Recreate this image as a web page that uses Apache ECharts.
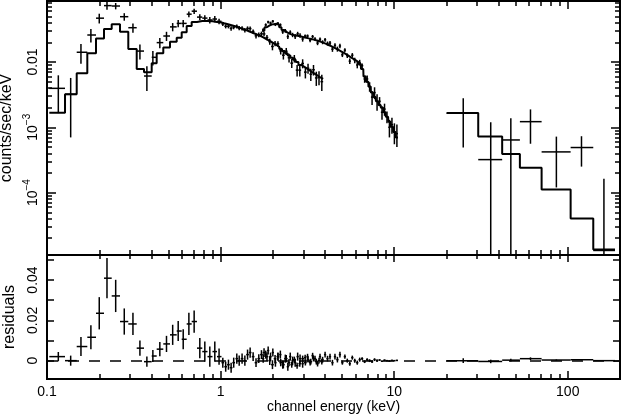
<!DOCTYPE html>
<html><head><meta charset="utf-8">
<script src="https://cdn.jsdelivr.net/npm/echarts@6/dist/echarts.min.js"></script>
<style>html,body{margin:0;padding:0;background:#fff}#c{width:623px;height:417px}</style>
</head><body><div id="c"></div>
<script>
// ---------- tick positions / labels ----------
const xTickEnergies = [0.1, 1, 10, 100];
const xTickLabels = ['0.1', '1', '10', '100'];
const xMinorEnergies = [0.2,0.3,0.4,0.5,0.6,0.7,0.8,0.9,2,3,4,5,6,7,8,9,20,30,40,50,60,70,80,90];
const yTickRates = [0.01, 0.001, 0.0001];
const yTickLabels = ['{b|0.01}', '{b|10}{s|\u22123}', '{b|10}{s|\u22124}'];
const yMinorRates = [2e-5,3e-5,4e-5,5e-5,6e-5,7e-5,8e-5,9e-5,
  2e-4,3e-4,4e-4,5e-4,6e-4,7e-4,8e-4,9e-4,
  2e-3,3e-3,4e-3,5e-3,6e-3,7e-3,8e-3,9e-3,
  2e-2,3e-2,4e-2,5e-2,6e-2,7e-2,8e-2];
const resTickValues = [0, 0.01, 0.02, 0.03, 0.04, 0.05];
const resLabelValues = [0, 0.02, 0.04];
const resLabels = ['0', '0.02', '0.04'];

// ---------- LECS, low-energy wide bins ----------
const lecsLowEdges = [0.1031,0.1270,0.1483,0.1707,0.1916,0.2130,0.2359,0.2634,0.2940,0.3287,0.3622,0.4010,0.4284,0.4677,0.5112,0.5587,0.5970,0.6378,0.6815,0.7311,0.7843,0.8406,0.8981,0.9535,1.0120];
const lecsLowE = [0.1162,0.1369,0.1569,0.179,0.2,0.2216,0.2487,0.2787,0.3127,0.343,0.3762,0.4073,0.4467,0.488,0.5297,0.5699,0.6091,0.6567,0.7042,0.7592,0.8113,0.8668,0.9262,0.98];
const lecsLowRate = [0.00395,0.0032,0.0141,0.0259,0.0469,0.073,0.072,0.0494,0.0335,0.0147,0.0061,0.0118,0.0198,0.025,0.0345,0.039,0.039,0.054,0.060,0.0487,0.047,0.044,0.0455,0.042];
const lecsLowErr = [0.0023,0.0025,0.0047,0.006,0.008,0.010,0.008,0.0065,0.0055,0.0038,0.0025,0.003,0.0035,0.004,0.005,0.005,0.005,0.0055,0.0055,0.005,0.005,0.005,0.005,0.004];
const lecsLowModel = [0.00167,0.0032,0.0067,0.0136,0.023,0.032,0.0378,0.029,0.0158,0.0078,0.00695,0.00955,0.0136,0.0166,0.0205,0.0236,0.0285,0.0356,0.041,0.0425,0.0425,0.042,0.041,0.0403];
const lecsLowResid = [0.002,0.0,0.007,0.0116,0.0235,0.0409,0.0321,0.0194,0.0182,0.0062,-0.0005,0.0023,0.0057,0.0083,0.0128,0.0147,0.0106,0.0182,0.0194,0.0062,0.0045,0.002,0.0045,0.002];

// ---------- LECS, dense bins ----------
const lecsHalfWidth = 0.018;
const lecsE = [1.03,1.07,1.11,1.15,1.19,1.24,1.28,1.33,1.38,1.43,1.48,1.54,1.60,1.66,1.72,1.78,1.85,1.92,1.99,2.06,2.14,2.22,2.30,2.39,2.48,2.57,2.66,2.76,2.86,2.97,3.08,3.19,3.31,3.43,3.56,3.69,3.83];
const lecsModel = [0.0392,0.0382,0.0372,0.0362,0.0352,0.0340,0.0330,0.0318,0.0307,0.0296,0.0285,0.0273,0.0262,0.0251,0.0240,0.0229,0.0217,0.0205,0.0193,0.0182,0.0170,0.0158,0.0147,0.0136,0.0126,0.0116,0.0108,0.0100,0.0090,0.0085,0.0080,0.0075,0.0070,0.0066,0.0062,0.0058,0.0055];
const lecsRate = [0.0382,0.0352,0.0352,0.0327,0.0342,0.0350,0.0330,0.0328,0.0307,0.0326,0.0325,0.0293,0.0252,0.0261,0.0270,0.0269,0.0237,0.0205,0.0173,0.0192,0.0190,0.0148,0.0127,0.0146,0.0116,0.0096,0.0113,0.0075,0.0075,0.0095,0.0070,0.0080,0.0065,0.0076,0.0057,0.0058,0.0050];
const lecsErr = [0.0025,0.0025,0.0025,0.0025,0.0025,0.0025,0.0025,0.0025,0.0025,0.0025,0.0025,0.0022,0.0022,0.0022,0.0022,0.0022,0.0022,0.0022,0.0022,0.0018,0.0018,0.0018,0.0018,0.0018,0.0018,0.0015,0.0015,0.0015,0.0015,0.0015,0.0014,0.0014,0.0014,0.0014,0.0014,0.0014,0.0014];
const lecsResid = [-0.001,-0.003,-0.002,-0.0035,-0.001,0.001,0.0,0.001,0.0,0.003,0.004,0.002,-0.001,0.001,0.003,0.004,0.002,0.0,-0.002,0.001,0.002,-0.001,-0.002,0.001,-0.001,-0.002,0.0005,-0.0025,-0.0015,0.001,-0.001,0.0005,-0.0005,0.001,-0.0005,0.0,-0.0005];

// ---------- MECS ----------
const mecsHalfWidth = 0.015;
const mecsE = [1.76,1.82,1.88,1.94,2.00,2.07,2.14,2.21,2.28,2.36,2.44,2.52,2.60,2.69,2.78,2.87,2.97,3.07,3.17,3.28,3.39,3.50,3.62,3.74,3.87,4.00,4.13,4.27,4.41,4.56,4.71,4.87,5.03,5.20,5.37,5.55,5.74,5.93,6.13,6.33,6.54,6.76,6.99,7.22,7.46,7.71,7.97,8.24,8.51,8.80,9.09,9.39,9.71,10.03,10.37];
const mecsModel = [0.030,0.034,0.036,0.0375,0.038,0.0385,0.037,0.034,0.031,0.029,0.0275,0.0265,0.026,0.0255,0.025,0.0245,0.024,0.0235,0.023,0.0225,0.022,0.0215,0.021,0.0203,0.0196,0.0189,0.0182,0.0175,0.0167,0.0160,0.0153,0.0146,0.0139,0.0132,0.0125,0.0118,0.0112,0.0106,0.0100,0.0093,0.0078,0.0060,0.0050,0.0042,0.0034,0.0029,0.0025,0.0022,0.0020,0.0017,0.00145,0.00122,0.00102,0.00085,0.00070];
const mecsRate = [0.031,0.037,0.041,0.0395,0.042,0.0375,0.039,0.037,0.029,0.030,0.0245,0.0285,0.026,0.0245,0.027,0.0255,0.0225,0.025,0.025,0.0215,0.0245,0.0225,0.0195,0.0223,0.0201,0.0219,0.0192,0.0195,0.0157,0.0180,0.0158,0.0176,0.0129,0.0152,0.0125,0.0103,0.0127,0.0106,0.0090,0.0098,0.0088,0.0055,0.0055,0.0042,0.0029,0.0034,0.0025,0.0025,0.0017,0.0019,0.00145,0.0010,0.0011,0.00085,0.0008];
const mecsErr = [0.002,0.002,0.002,0.002,0.002,0.002,0.002,0.002,0.002,0.002,0.002,0.002,0.002,0.002,0.002,0.002,0.002,0.0014,0.0014,0.0014,0.0014,0.0014,0.0014,0.0014,0.0014,0.0014,0.0014,0.0014,0.0014,0.0014,0.0014,0.0014,0.001,0.001,0.001,0.001,0.001,0.001,0.001,0.001,0.0007,0.0007,0.0007,0.0007,0.0007,0.0007,0.0007,0.0004,0.0004,0.0004,0.0003,0.0003,0.0003,0.0003,0.0003];
const mecsResid = [0.001,0.003,0.005,0.002,0.004,-0.001,0.002,0.003,-0.002,0.001,-0.003,0.002,0.0,-0.001,0.002,0.001,-0.0015,0.0015,0.002,-0.001,0.0025,0.001,-0.0015,0.002,0.0005,0.003,0.001,0.002,-0.001,0.002,0.0005,0.003,-0.001,0.002,0.0,-0.0015,0.0015,0.0,-0.001,0.0005,0.001,-0.0005,0.0005,0.0,-0.0005,0.0005,0.0,0.0003,-0.0003,0.0002,0.0,-0.0002,0.0001,0.0,0.0001];

// ---------- PDS ----------
const pdsEdges = [20.06,30.5,41.9,53.0,70.7,103.9,140.3,187.1];
const pdsE = [25,36,47,61,86,120,161.6];
const pdsRate = [0.00164,0.00032,0.00064,0.00122,0.00042,0.00049,0.000013];
const pdsErr = [0.00115,0.00087,0.00073,0.00066,0.0003,0.00024,0.00015];
const pdsModel = [0.00166,0.00072,0.00039,0.00024,0.000112,0.00004,0.0000135];
const pdsResid = [-0.00002,-0.0004,0.00025,0.00098,0.00031,0.00045,0.0];

// ---------- axis ranges ----------
const L = Math.log10;
const X_MIN = -1, X_MAX = L(200);
const Y_MIN = -4.9556, Y_MAX = -1.0659;
const R_MIN = -0.0091, R_MAX = 0.0524;
const FONT = 'Liberation Sans';

// ---------- build series data ----------
const topData = [], resData = [];
const modelLecs = [], modelMecs = [], modelPds = [];
function addPoint(e, lo, hi, v, err, r, m, modelArr) {
  const vl = v - err;
  topData.push([L(e), L(lo), L(hi), L(v), vl > 0 ? L(vl) : Y_MIN - 3, L(v + err)]);
  resData.push([L(e), L(lo), L(hi), r, r - err, r + err]);
  modelArr.push([L(lo), L(m)], [L(hi), L(m)]);
}
lecsLowE.forEach((e, i) => addPoint(e, lecsLowEdges[i], lecsLowEdges[i + 1], lecsLowRate[i], lecsLowErr[i], lecsLowResid[i], lecsLowModel[i], modelLecs));
lecsE.forEach((e, i) => addPoint(e, e * (1 - lecsHalfWidth), e * (1 + lecsHalfWidth), lecsRate[i], lecsErr[i], lecsResid[i], lecsModel[i], modelLecs));
mecsE.forEach((e, i) => addPoint(e, e * (1 - mecsHalfWidth), e * (1 + mecsHalfWidth), mecsRate[i], mecsErr[i], mecsResid[i], mecsModel[i], modelMecs));
pdsE.forEach((e, i) => addPoint(e, pdsEdges[i], pdsEdges[i + 1], pdsRate[i], pdsErr[i], pdsResid[i], pdsModel[i], modelPds));

function crossItem(params, api) {
  const x = api.value(0), xl = api.value(1), xh = api.value(2);
  const y = api.value(3), yl = api.value(4), yh = api.value(5);
  const c = api.coord([x, y]);
  const cl = api.coord([xl, y]), ch = api.coord([xh, y]);
  const cyl = api.coord([x, yl]), cyh = api.coord([x, yh]);
  const st = { stroke: '#000', lineWidth: 1.5 };
  return { type: 'group', children: [
    { type: 'line', shape: { x1: cl[0], y1: c[1], x2: ch[0], y2: c[1] }, style: st },
    { type: 'line', shape: { x1: c[0], y1: cyl[1], x2: c[0], y2: cyh[1] }, style: st }
  ]};
}

// ---------- axes ----------
const TICK = { color: '#000', width: 1.5 };
const near = (a, b) => Math.abs(a - b) < 1e-6;
function xAx(grid, pos, vals, len, extra) {
  return Object.assign({
    type: 'value', gridIndex: grid, position: pos, min: X_MIN, max: X_MAX,
    axisLine: { show: false, onZero: false }, splitLine: { show: false },
    axisTick: { show: true, inside: true, length: len, lineStyle: TICK, customValues: vals },
    axisLabel: { show: false }
  }, extra || {});
}
function yAx(grid, pos, min, max, vals, len, extra) {
  return Object.assign({
    type: 'value', gridIndex: grid, position: pos, min: min, max: max,
    axisLine: { show: false, onZero: false }, splitLine: { show: false },
    axisTick: { show: true, inside: true, length: len, lineStyle: TICK, customValues: vals },
    axisLabel: { show: false }
  }, extra || {});
}
const xMajor = xTickEnergies.map(L), xMinor = xMinorEnergies.map(L);
const yMajor = yTickRates.map(L), yMinor = yMinorRates.map(L);

const xAxis = [
  xAx(0, 'bottom', xMajor, 8), xAx(0, 'bottom', xMinor, 5),
  xAx(0, 'top', xMajor, 8), xAx(0, 'top', xMinor, 5),
  xAx(1, 'bottom', xMajor, 8, {
    axisLabel: { show: true, customValues: xMajor, margin: 6, color: '#000', fontSize: 14, fontFamily: FONT,
      formatter: v => { const i = xMajor.findIndex(t => near(t, v)); return i >= 0 ? xTickLabels[i] : ''; } },
    name: 'channel energy (keV)', nameLocation: 'middle', nameGap: 17,
    nameTextStyle: { color: '#000', fontSize: 14, fontFamily: FONT, verticalAlign: 'top' }
  }),
  xAx(1, 'bottom', xMinor, 5),
  xAx(1, 'top', xMajor, 7), xAx(1, 'top', xMinor, 4)
];
const yAxis = [
  yAx(0, 'left', Y_MIN, Y_MAX, yMajor, 9, {
    axisLabel: { show: true, customValues: yMajor, rotate: 90, margin: 7, color: '#000', fontFamily: FONT,
      formatter: v => { const i = yMajor.findIndex(t => near(t, v)); return i >= 0 ? yTickLabels[i] : ''; },
      rich: { b: { fontSize: 14, lineHeight: 18, verticalAlign: 'bottom', fontFamily: FONT, color: '#000' },
              s: { fontSize: 10, lineHeight: 18, verticalAlign: 'top', fontFamily: FONT, color: '#000' } } },
    name: 'counts/sec/keV', nameLocation: 'middle', nameGap: 29,
    nameTextStyle: { color: '#000', fontSize: 16, fontFamily: FONT }
  }),
  yAx(0, 'left', Y_MIN, Y_MAX, yMinor, 5),
  yAx(0, 'right', Y_MIN, Y_MAX, yMajor, 9),
  yAx(0, 'right', Y_MIN, Y_MAX, yMinor, 5),
  yAx(1, 'left', R_MIN, R_MAX, resTickValues, 7, {
    axisLabel: { show: true, customValues: resLabelValues, rotate: 90, margin: 7, color: '#000', fontSize: 14, fontFamily: FONT,
      formatter: v => { const i = resLabelValues.findIndex(t => near(t, v)); return i >= 0 ? resLabels[i] : ''; } },
    name: 'residuals', nameLocation: 'middle', nameGap: 29,
    nameTextStyle: { color: '#000', fontSize: 16, fontFamily: FONT }
  }),
  yAx(1, 'right', R_MIN, R_MAX, resTickValues, 7)
];

const modelLine = (data) => ({
  type: 'line', xAxisIndex: 0, yAxisIndex: 0, data: data, symbol: 'none', showSymbol: false,
  lineStyle: { color: '#000', width: 2 }, clip: true, silent: true, z: 2
});

const chart = echarts.init(document.getElementById('c'), null, { renderer: 'canvas' });
chart.setOption({
  animation: false,
  backgroundColor: '#fff',
  grid: [
    { left: 47, right: 3, top: 1, height: 254, show: true, borderColor: '#000', borderWidth: 2, backgroundColor: 'transparent', containLabel: false, outerBoundsMode: 'none' },
    { left: 47, right: 3, top: 255, height: 124, show: true, borderColor: '#000', borderWidth: 2, backgroundColor: 'transparent', containLabel: false, outerBoundsMode: 'none' }
  ],
  xAxis: xAxis,
  yAxis: yAxis,
  series: [
    { type: 'custom', xAxisIndex: 0, yAxisIndex: 0, data: topData, renderItem: crossItem, clip: true, silent: true, z: 3,
      encode: { x: [0, 1, 2], y: [3, 4, 5] } },
    modelLine(modelLecs), modelLine(modelMecs), modelLine(modelPds),
    { type: 'custom', xAxisIndex: 4, yAxisIndex: 4, data: resData, renderItem: crossItem, clip: true, silent: true, z: 3,
      encode: { x: [0, 1, 2], y: [3, 4, 5] },
      markLine: { silent: true, symbol: ['none', 'none'], label: { show: false },
        lineStyle: { color: '#000', width: 1.5, type: [11, 10] }, data: [{ yAxis: 0 }] } }
  ]
});
</script>
</body></html>
